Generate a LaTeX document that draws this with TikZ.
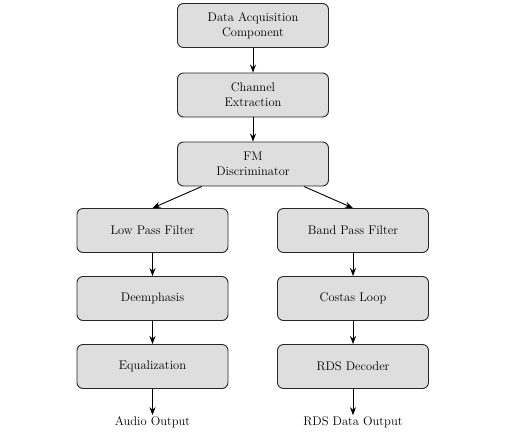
\documentclass[tikz,border=0pt]{standalone}
\usetikzlibrary{arrows.meta}
\begin{document}
\begin{tikzpicture}[x=1pt,y=-1pt,
  blk/.style={draw=black!85,fill=black!13,rounded corners=6pt,line width=0.9pt,
    minimum width=151pt,minimum height=44pt,align=center,inner sep=0pt,
    font=\fontsize{12.5}{15}\selectfont},
  lbl/.style={font=\fontsize{12.5}{15}\selectfont,inner sep=1pt},
  arr/.style={-{Stealth[length=8pt,width=6pt]},line width=0.9pt}]
\useasboundingbox (0,0) rectangle (520,440);
\node[blk] (dac) at (253,25.5) {Data Acquisition\\Component};
\node[blk] (ce) at (253,95) {Channel\\Extraction};
\node[blk] (fm) at (253,164) {FM\\Discriminator};
\node[blk] (lpf) at (152.5,230.5) {Low Pass Filter};
\node[blk] (de) at (152.5,298.5) {Deemphasis};
\node[blk] (eq) at (152.5,366.5) {Equalization};
\node[blk] (bpf) at (353,230.5) {Band Pass Filter};
\node[blk] (cl) at (353,298.5) {Costas Loop};
\node[blk] (rds) at (353,366.5) {RDS Decoder};
\node[lbl] (ao) at (152.5,422) {Audio Output};
\node[lbl] (ro) at (353,422) {RDS Data Output};
\draw[arr] (dac) -- (ce);
\draw[arr] (ce) -- (fm);
\draw[arr] (fm) -- (lpf.north);
\draw[arr] (fm) -- (bpf.north);
\draw[arr] (lpf) -- (de);
\draw[arr] (de) -- (eq);
\draw[arr] (eq) -- (ao);
\draw[arr] (bpf) -- (cl);
\draw[arr] (cl) -- (rds);
\draw[arr] (rds) -- (ro);
\end{tikzpicture}
\end{document}
